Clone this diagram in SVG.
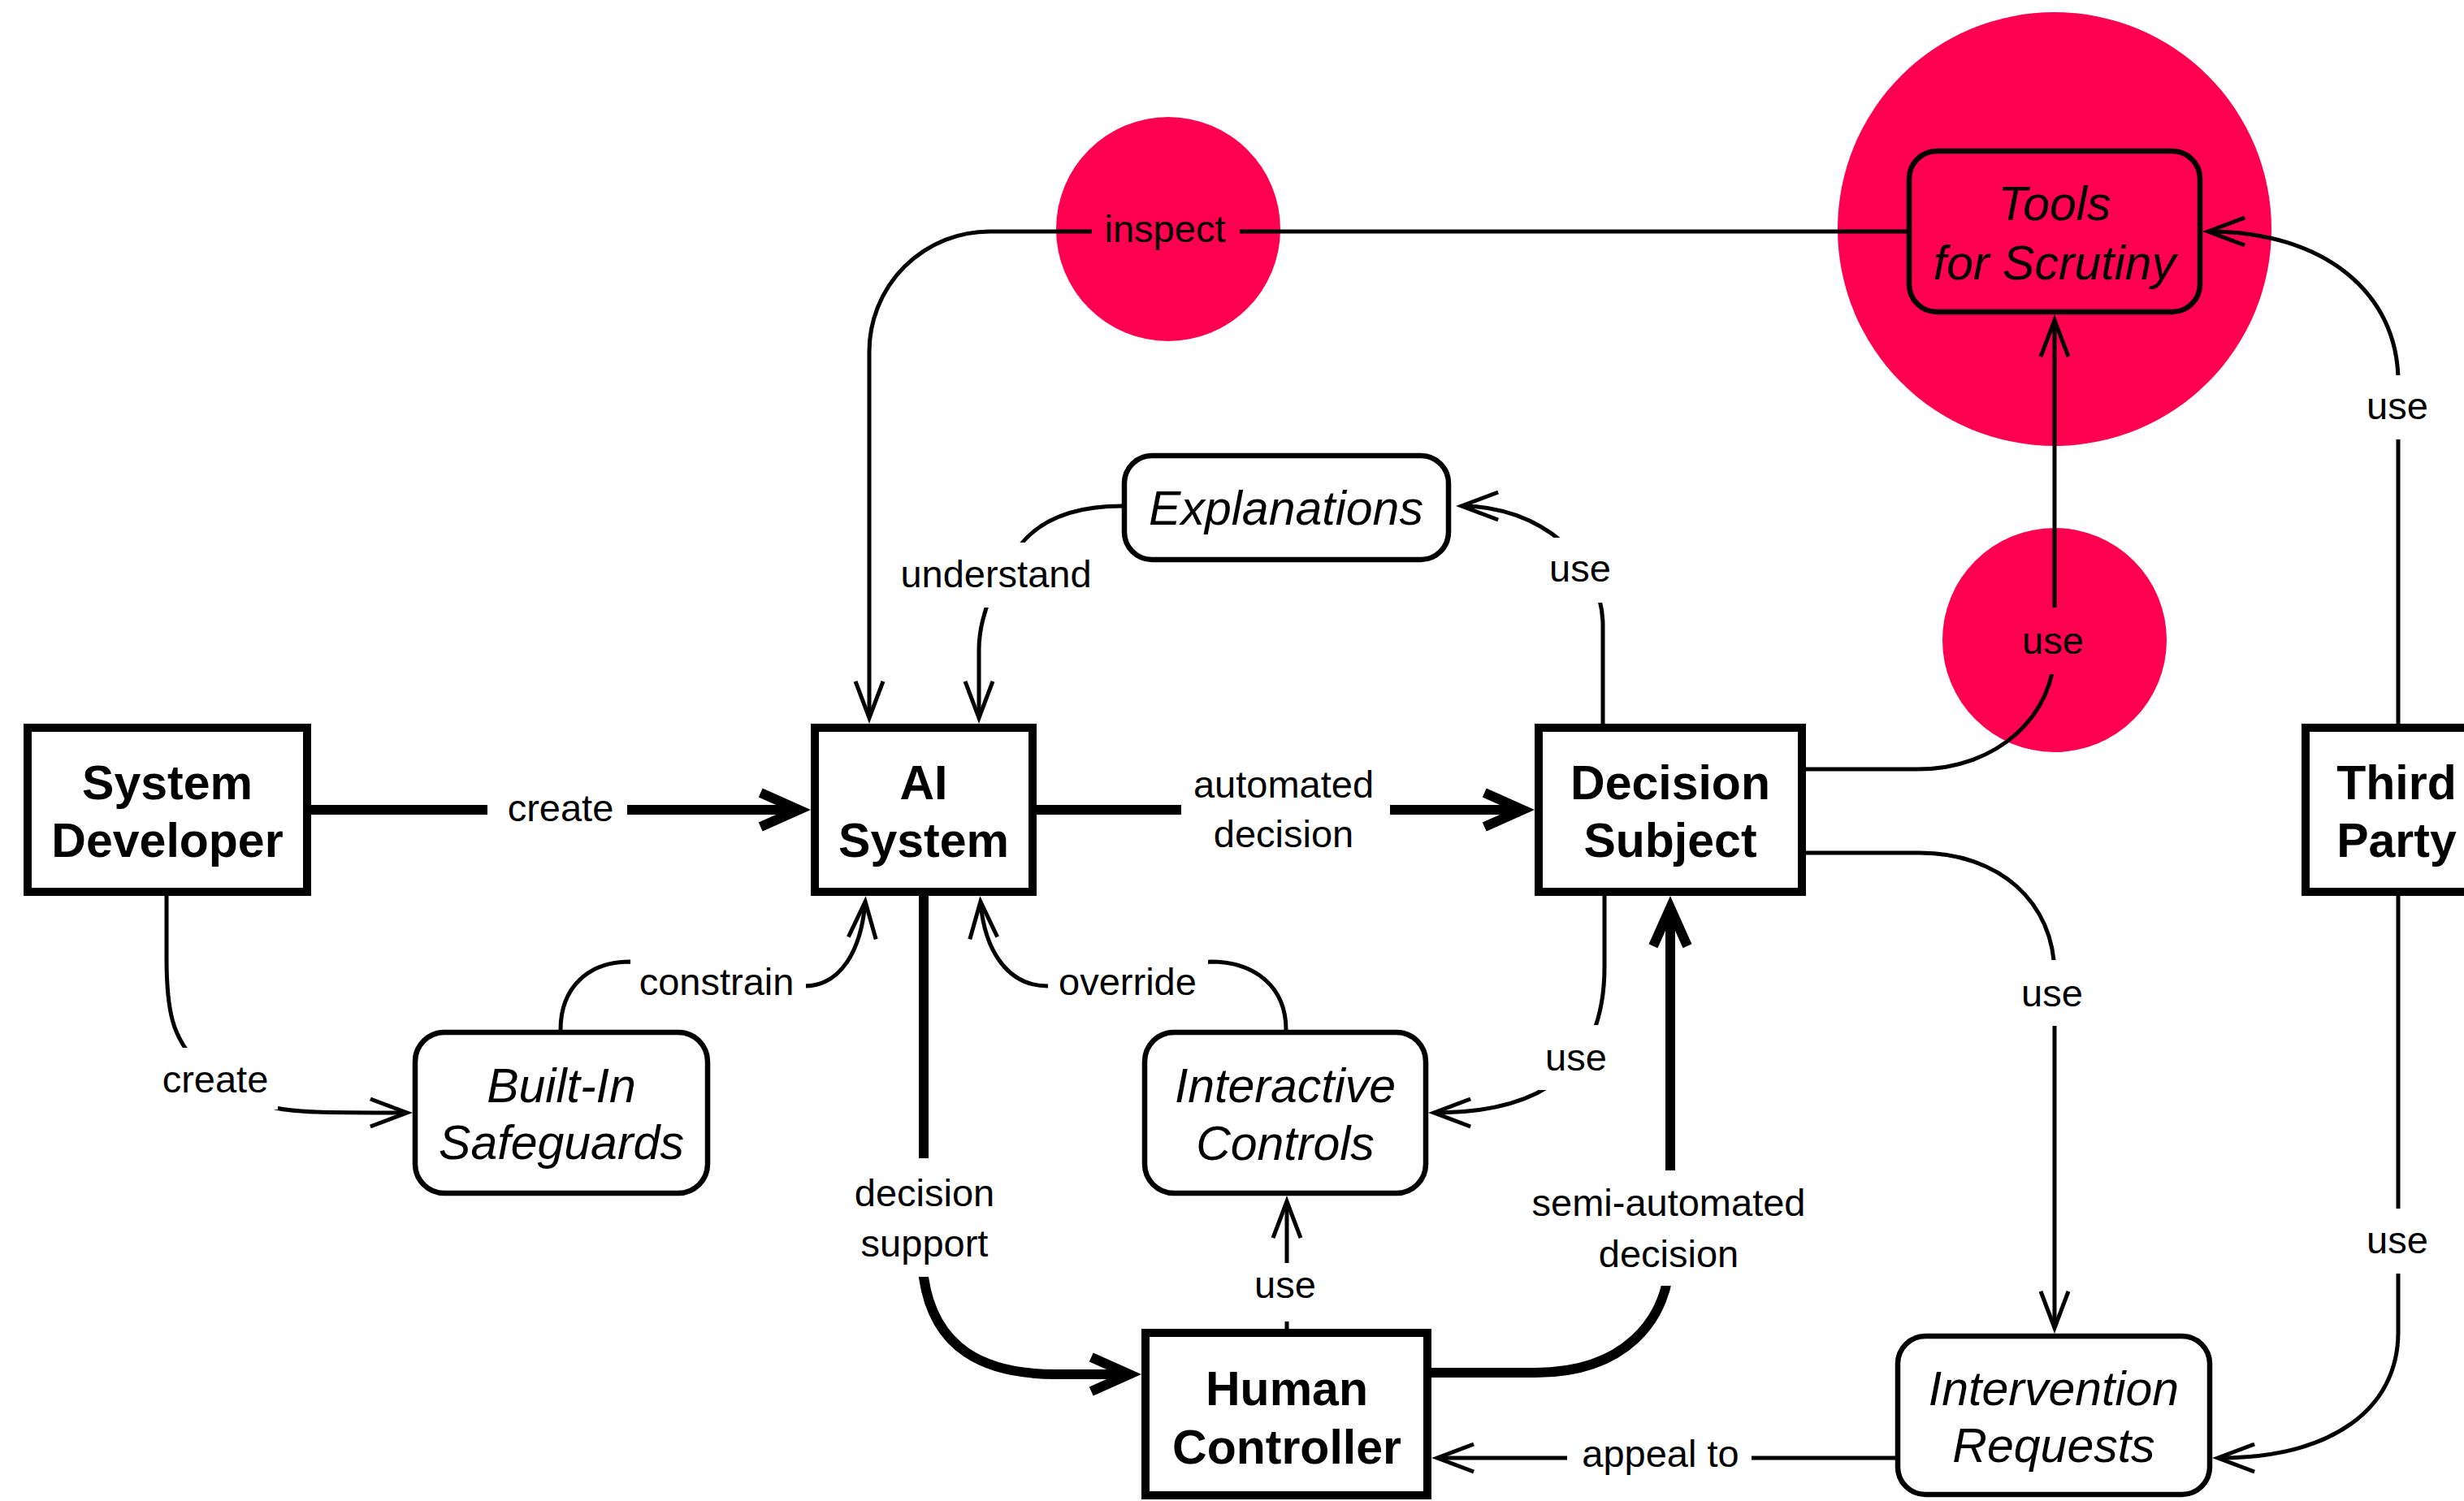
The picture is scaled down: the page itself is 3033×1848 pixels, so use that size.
<svg xmlns="http://www.w3.org/2000/svg" width="3033" height="1848" viewBox="0 0 3033 1848">
  <style>
    text { font-family: "Liberation Sans", Arial, Helvetica, sans-serif; fill: #000; text-anchor: middle; }
    .actor { fill: #fff; stroke: #000; stroke-width: 10; }
    .artifact { fill: none; stroke: #000; stroke-width: 6.5; }
    .actor-label { font-size: 59px; font-weight: bold; }
    .artifact-label { font-size: 59px; font-style: italic; }
    .edge-label { font-size: 47px; }
    .thin { fill: none; stroke: #000; stroke-width: 5; }
    .thick { fill: none; stroke: #000; stroke-width: 12; }
    .highlight { fill: #ff0050; }
  </style>
  <defs>
    <!-- open chevron heads; tips sit 8 / 16 px beyond the path end -->
    <marker id="headThin" markerUnits="userSpaceOnUse" orient="auto" refX="0" refY="0" markerWidth="120" markerHeight="120" overflow="visible">
      <path d="M-44.1,-17 L0.9,0 L-44.1,17" fill="none" stroke="#000" stroke-width="5" stroke-linejoin="miter"/>
    </marker>
    <marker id="headThick" markerUnits="userSpaceOnUse" orient="auto" refX="0" refY="0" markerWidth="140" markerHeight="140" overflow="visible">
      <path d="M-45.75,-21 L1.25,0 L-45.75,21" fill="none" stroke="#000" stroke-width="12" stroke-linejoin="miter"/>
    </marker>
    <!-- gaps cut into connector lines behind their labels -->
    <mask id="labelGaps" maskUnits="userSpaceOnUse" x="0" y="0" width="3033" height="1848">
      <rect x="0" y="0" width="3033" height="1848" fill="#fff"/>
      <g fill="#000">
        <rect x="600" y="975" width="172" height="45"/>
        <rect x="1454" y="960" width="257" height="100"/>
        <rect x="1344" y="262" width="182" height="48"/>
        <rect x="1100" y="668" width="250" height="80"/>
        <rect x="1900" y="662" width="90" height="80"/>
        <rect x="2485" y="748" width="85" height="82"/>
        <rect x="2910" y="462" width="85" height="79"/>
        <rect x="2485" y="1182" width="85" height="81"/>
        <rect x="2910" y="1488" width="85" height="80"/>
        <rect x="1929" y="1775" width="227" height="45"/>
        <rect x="1890" y="1262" width="95" height="80"/>
        <rect x="1290" y="1175" width="197" height="65"/>
        <rect x="776" y="1175" width="216" height="65"/>
        <rect x="195" y="1290" width="147" height="76"/>
        <rect x="1100" y="1426" width="75" height="146"/>
        <rect x="2020" y="1441" width="70" height="142"/>
        <rect x="1560" y="1555" width="50" height="72"/>
      </g>
    </mask>
  </defs>

  <rect x="0" y="0" width="3033" height="1848" fill="#fff"/>

  <!-- highlight discs -->
  <g id="highlights">
    <circle class="highlight" cx="2529" cy="282" r="267"/>
    <circle class="highlight" cx="2529" cy="788" r="138"/>
    <circle class="highlight" cx="1438" cy="282" r="138"/>
  </g>

  <g id="connectors">
    <g mask="url(#labelGaps)">
      <!-- thin relations -->
      <path id="e-inspect" class="thin" marker-end="url(#headThin)" d="M2347,285 L1218,285 A148,148 0 0 0 1070,433 L1070,883"/>
      <path id="e-understand" class="thin" marker-end="url(#headThin)" d="M1381,623 C1320,623 1280,640 1255,672 C1225,710 1205,760 1205,800 L1205,883"/>
      <path id="e-use-explanations" class="thin" marker-end="url(#headThin)" d="M1973,893 L1973,770 C1973,690 1895,623 1800,623"/>
      <path id="e-use-tools-ds" class="thin" marker-end="url(#headThin)" d="M2220,947 L2360,947 C2460,947 2529,880 2529,800 L2529,395"/>
      <path id="e-use-requests-ds" class="thin" marker-end="url(#headThin)" d="M2220,1050 L2363,1050 C2460,1050 2529,1110 2529,1200 L2529,1634"/>
      <path id="e-use-tools-tp" class="thin" marker-end="url(#headThin)" d="M2952,893 L2952,470 C2952,360 2860,285 2719,285"/>
      <path id="e-use-requests-tp" class="thin" marker-end="url(#headThin)" d="M2952,1101 L2952,1640 C2952,1735 2870,1795 2731,1795"/>
      <path id="e-appeal" class="thin" marker-end="url(#headThin)" d="M2333,1795 L1770,1795"/>
      <path id="e-use-controls-ds" class="thin" marker-end="url(#headThin)" d="M1975,1101 L1975,1190 C1975,1320 1895,1370 1766,1370"/>
      <path id="e-override" class="thin" marker-end="url(#headThin)" d="M1583,1268 C1583,1215 1545,1184 1490,1184 L1290,1214 C1240,1214 1212,1170 1207,1111"/>
      <path id="e-constrain" class="thin" marker-end="url(#headThin)" d="M690,1268 C690,1215 725,1184 775,1184 L990,1214 C1035,1214 1060,1170 1065,1111"/>
      <path id="e-create-safeguards" class="thin" marker-end="url(#headThin)" d="M205,1101 L205,1180 C205,1250 215,1275 235,1300 L330,1362 C360,1370 400,1370 500,1370"/>
      <path id="e-use-controls-hc" class="thin" marker-end="url(#headThin)" d="M1584,1638 L1584,1480"/>
      <!-- thick decision flow -->
      <path id="e-create-ai" class="thick" marker-end="url(#headThick)" d="M380,997 L982,997"/>
      <path id="e-automated" class="thick" marker-end="url(#headThick)" d="M1274,997 L1873,997"/>
      <path id="e-support" class="thick" marker-end="url(#headThick)" d="M1137,1100 L1137,1573 C1150,1660 1210,1692 1300,1692 L1389,1692"/>
      <path id="e-semi" class="thick" marker-end="url(#headThick)" d="M1760,1690 L1890,1690 C1995,1690 2056,1630 2056,1540 L2056,1119"/>
    </g>
    <g id="edge-labels">
      <text class="edge-label" x="690" y="1011">create</text>
      <text class="edge-label" x="1580" y="982">automated</text>
      <text class="edge-label" x="1580" y="1043">decision</text>
      <text class="edge-label" x="1434" y="298">inspect</text>
      <text class="edge-label" x="1226" y="723">understand</text>
      <text class="edge-label" x="1945" y="716">use</text>
      <text class="edge-label" x="2527" y="805">use</text>
      <text class="edge-label" x="2951" y="516">use</text>
      <text class="edge-label" x="2526" y="1239">use</text>
      <text class="edge-label" x="2951" y="1543">use</text>
      <text class="edge-label" x="2044" y="1806">appeal to</text>
      <text class="edge-label" x="1940" y="1318">use</text>
      <text class="edge-label" x="1388" y="1225">override</text>
      <text class="edge-label" x="882" y="1225">constrain</text>
      <text class="edge-label" x="265" y="1345">create</text>
      <text class="edge-label" x="1138" y="1485">decision</text>
      <text class="edge-label" x="1138" y="1547">support</text>
      <text class="edge-label" x="1582" y="1598">use</text>
      <text class="edge-label" x="2054" y="1497">semi-automated</text>
      <text class="edge-label" x="2054" y="1560">decision</text>
    </g>
  </g>

  <!-- actors -->
  <g id="system-developer">
    <rect class="actor" x="34" y="896" width="344" height="202"/>
    <text class="actor-label" x="206" y="984">System</text>
    <text class="actor-label" x="206" y="1055">Developer</text>
  </g>
  <g id="ai-system">
    <rect class="actor" x="1003" y="896" width="268" height="202"/>
    <text class="actor-label" x="1137" y="984">AI</text>
    <text class="actor-label" x="1137" y="1055">System</text>
  </g>
  <g id="decision-subject">
    <rect class="actor" x="1894" y="896" width="324" height="202"/>
    <text class="actor-label" x="2056" y="984">Decision</text>
    <text class="actor-label" x="2056" y="1055">Subject</text>
  </g>
  <g id="third-party">
    <rect class="actor" x="2838" y="896" width="224" height="202"/>
    <text class="actor-label" x="2950" y="984">Third</text>
    <text class="actor-label" x="2950" y="1055">Party</text>
  </g>
  <g id="human-controller">
    <rect class="actor" x="1410" y="1641" width="347" height="200"/>
    <text class="actor-label" x="1584" y="1730">Human</text>
    <text class="actor-label" x="1584" y="1802">Controller</text>
  </g>

  <!-- artifacts -->
  <g id="tools-for-scrutiny">
    <rect class="artifact" x="2350" y="186" width="358" height="198" rx="34"/>
    <text class="artifact-label" x="2529" y="271">Tools</text>
    <text class="artifact-label" x="2529" y="344">for Scrutiny</text>
  </g>
  <g id="explanations">
    <rect class="artifact" x="1384" y="561" width="399" height="128" rx="34" fill="#fff"/>
    <text class="artifact-label" x="1583" y="646">Explanations</text>
  </g>
  <g id="built-in-safeguards">
    <rect class="artifact" x="511" y="1271" width="360" height="198" rx="36"/>
    <text class="artifact-label" x="691" y="1357">Built-In</text>
    <text class="artifact-label" x="691" y="1427">Safeguards</text>
  </g>
  <g id="interactive-controls">
    <rect class="artifact" x="1409" y="1271" width="346" height="198" rx="36"/>
    <text class="artifact-label" x="1582" y="1357">Interactive</text>
    <text class="artifact-label" x="1582" y="1428">Controls</text>
  </g>
  <g id="intervention-requests">
    <rect class="artifact" x="2336" y="1645" width="384" height="195" rx="34"/>
    <text class="artifact-label" x="2528" y="1730">Intervention</text>
    <text class="artifact-label" x="2528" y="1800">Requests</text>
  </g>
</svg>
